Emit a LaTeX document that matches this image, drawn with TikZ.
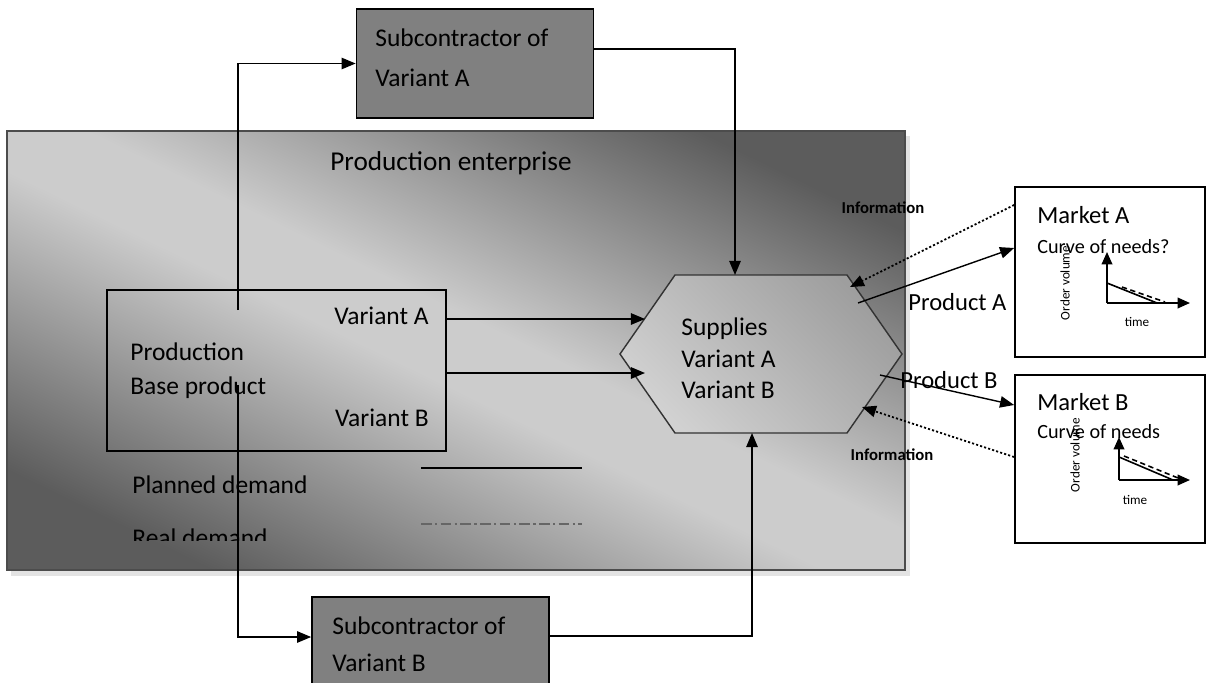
\documentclass[tikz,border=0pt]{standalone}
\usepackage{fontspec}
\setmainfont{Carlito}
\usetikzlibrary{arrows.meta}

\definecolor{entdark}{gray}{0.36}
\definecolor{entlight}{gray}{0.80}
\definecolor{hexlight}{gray}{0.82}
\definecolor{hexdark}{gray}{0.62}
\definecolor{subfill}{gray}{0.50}

\pgfdeclareverticalshading{entshade}{100bp}{color(0bp)=(entdark); color(24bp)=(entdark);
  color(47bp)=(entlight); color(53bp)=(entlight); color(76bp)=(entdark); color(100bp)=(entdark)}

\tikzset{
  arr/.style={-{Triangle[length=8pt,width=6.5pt]}, line width=0.8pt},
  info/.style={arr, line width=1pt, dash pattern=on 1.2pt off 1.2pt},
  axisarr/.style={-{Triangle[length=7pt,width=6pt]}, line width=1pt},
  subbox/.style={draw, line width=1pt, fill=subfill, minimum width=4.74cm},
  mktbox/.style={draw, line width=1pt, fill=white, minimum width=3.8cm},
  lbl/.style={anchor=base west, inner sep=0pt, font=\fontsize{14.5}{17}\selectfont},
  mkt/.style={anchor=base west, inner sep=0pt, font=\fontsize{14}{16}\selectfont},
  curve/.style={anchor=base west, inner sep=0pt, font=\fontsize{11.5}{13}\selectfont},
  infolbl/.style={anchor=base, inner sep=0pt, font=\bfseries\fontsize{9.5}{11}\selectfont},
  tiny/.style={inner sep=0pt, font=\fontsize{7.5}{9}\selectfont},
}

\begin{document}
\begin{tikzpicture}[x=0.02cm, y=-0.02cm]
  \useasboundingbox (0,0) rectangle (1208,683);
  \clip (0,0) rectangle (1208,683);

  % production enterprise
  \fill[gray!22] (11,136) rectangle (910,576);
  \shade[shading=entshade, shading angle=-26] (7,131) rectangle (905,570);
  \draw[gray!60!black, line width=0.8pt] (7,131) rectangle (905,570);
  \node[lbl, font=\fontsize{15.5}{18}\selectfont] (ent) at (330,170) {Production enterprise};

  % subcontractors
  \node[subbox, minimum height=2.18cm] (subA) at (475,63.5) {};
  \node[lbl] (subAa) at (375,46) {Subcontractor of};
  \node[lbl] (subAb) at (375,86) {Variant A};
  \node[subbox, minimum height=2.4cm] (subB) at (430.5,657) {};
  \node[lbl] (subBa) at (332,634) {Subcontractor of};
  \node[lbl] (subBb) at (332,671) {Variant B};

  % production box
  \node[draw, line width=1pt, minimum width=6.78cm, minimum height=3.22cm] (prod) at (276.5,370.5) {};
  \node[lbl, anchor=base east] (prodA) at (429,324) {Variant A};
  \node[lbl] (prodt) at (130,360) {Production};
  \node[lbl] (prodb) at (130,394) {Base product};
  \node[lbl, anchor=base east] (prodB) at (429,426) {Variant B};

  % supplies hexagon
  \coordinate (h1) at (620,354);
  \coordinate (h2) at (675,275);
  \coordinate (h3) at (847,275);
  \coordinate (h4) at (902,354);
  \coordinate (h5) at (847,433);
  \coordinate (h6) at (675,433);
  \shade[top color=hexdark, bottom color=hexlight, shading angle=-45]
    (h1) -- (h2) -- (h3) -- (h4) -- (h5) -- (h6) -- cycle;
  \draw[line width=0.8pt, gray!40!black] (h1) -- (h2) -- (h3) -- (h4) -- (h5) -- (h6) -- cycle;
  \node[lbl] (supp) at (681,335) {Supplies};
  \node[lbl] (suppA) at (681,367) {Variant A};
  \node[lbl] (suppB) at (681,398) {Variant B};
  \coordinate (hA) at (645,319);
  \coordinate (hB) at (645,373);
  \coordinate (hT) at (735,275);
  \coordinate (hD) at (752,433);
  \coordinate (hiA) at (850,287);
  \coordinate (hpA) at (858,303);
  \coordinate (hpB) at (880,375);
  \coordinate (hiB) at (862,407);

  % legend
  \node[lbl] (plan) at (132,493) {Planned demand};
  \begin{scope}
    \clip (100,500) rectangle (400,540);
    \node[lbl] (real) at (132,546) {Real demand};
  \end{scope}
  \draw[line width=1pt] (421,468) -- (582,468);
  \draw[gray!80!black, line width=1.6pt, dash pattern=on 6pt off 2pt on 1.2pt off 2pt] (421,524) -- (582,524);

  % markets
  \node[mktbox, minimum height=3.4cm] (mktA) at (1110,272) {};
  \node[mktbox, minimum height=3.36cm] (mktB) at (1110,459) {};
  \node[tiny, rotate=90] (volA) at (1065,283) {Order volume};
  \node[tiny, rotate=90] (volB) at (1075,455) {Order volume};
  \node[mkt] (mktAt) at (1037,223) {Market A};
  \node[curve] (curA) at (1037,253) {Curve of needs?};
  \node[mkt] (mktBt) at (1037,410) {Market B};
  \node[curve] (curB) at (1037,438) {Curve of needs};
  \node[tiny] (timeA) at (1137,322) {time};
  \node[tiny] (timeB) at (1135,500) {time};

  % curves of needs
  \draw[axisarr] (1107,303) -- (1107,252);
  \draw[axisarr] (1107,303) -- (1190,303);
  \draw[line width=0.9pt] (1107,283) -- (1157,303);
  \draw[line width=0.9pt, densely dashed] (1122,287) -- (1165,302);
  \draw[axisarr] (1119,480) -- (1119,437);
  \draw[axisarr] (1119,480) -- (1190,480);
  \draw[line width=0.9pt] (1119,457) -- (1173,480);
  \draw[line width=0.9pt, densely dashed] (1124,456) -- (1178,478);

  % connectors
  \draw[arr] (prod.east |- hA) -- (hA);
  \draw[arr] (prod.east |- hB) -- (hB);
  \coordinate (pupA) at (238,310);
  \coordinate (pdnB) at (238,385);
  \draw[arr] (pupA) |- (subA.west);
  \draw[arr] (pdnB) |- (subB.west |- 0,637);
  \draw[arr] (subA.east |- 0,49) -| (hT);
  \draw[arr] (subB.east |- 0,636) -| (hD);
  \draw[info] (mktA.west |- 0,205) -- (hiA);
  \draw[arr] (hpA) -- (mktA.west |- 0,248);
  \draw[arr] (hpB) -- (mktB.west |- 0,405);
  \draw[info] (mktB.west |- 0,457) -- (hiB);

  % connector labels
  \node[infolbl] (infA) at (883,213) {Information};
  \node[infolbl] (infB) at (892,460) {Information};
  \node[mkt] (prA) at (908,310) {Product A};
  \node[mkt] (prB) at (900,388) {Product B};
\end{tikzpicture}
\end{document}
